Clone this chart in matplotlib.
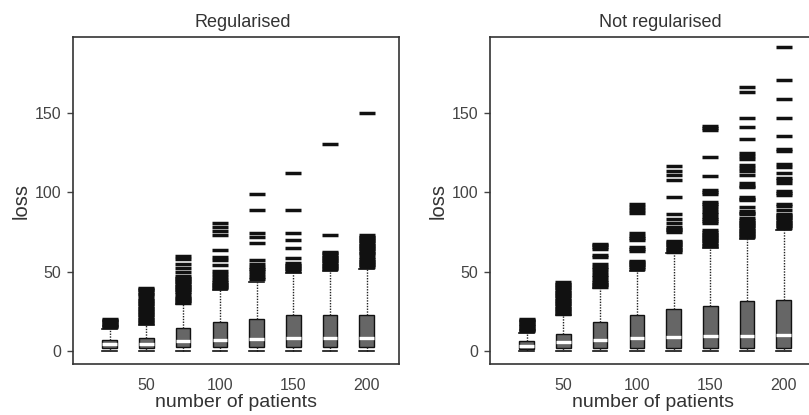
import matplotlib
matplotlib.use("Agg")
import matplotlib.pyplot as plt

# ---------------- data ----------------
patients = [25, 50, 75, 100, 125, 150, 175, 200]
xtick_vals = [50, 100, 150, 200]
ytick_vals = [0, 50, 100, 150]
titles = ["Regularised", "Not regularised"]
xlabel = "number of patients"
ylabel = "loss"

# Regularised
reg_whislo = [0, 0, 0, 0, 0, 0, 0, 0]
reg_q1 = [2.0, 2.2, 2.5, 2.5, 2.5, 2.5, 2.5, 2.5]
reg_med = [4.3, 4.8, 6.5, 7.3, 7.8, 8.2, 8.3, 8.3]
reg_q3 = [7.3, 8.6, 14.5, 18.4, 20.5, 22.6, 23.0, 23.0]
reg_whishi = [14.0, 16.5, 29.5, 38.5, 43.5, 49.5, 50.3, 52.0]
reg_fliers = [
    [15, 15.8, 16.6, 17.4, 18.2, 19, 19.8, 20.5],
    [17.5, 18.5, 19.5, 20.5, 21.5, 22.5, 23.5, 24.5, 25.5, 26.5, 27.5, 28.5,
     29.5, 30.5, 31.5, 32.5, 33.3, 35.3, 36.3, 37.3, 38.3, 39.3, 40],
    [30.5, 31.5, 32.5, 33.5, 34.3, 36.3, 37.3, 38.3, 39.3, 40.3, 41.3, 42.3,
     43.3, 44.3, 45.3, 46.3, 47.3, 50, 52.5, 55, 58, 60],
    [39.5, 40.5, 41.5, 42.5, 43.5, 44.5, 46.5, 48.5, 50.5, 54.5, 57.5, 59.5,
     63.5, 72.8, 75.3, 78, 80.7],
    [45.5, 46.5, 48.5, 50.5, 51.5, 53, 55, 57.5, 68, 72, 74.5, 89, 99],
    [50.5, 51.5, 52.5, 53.5, 54.5, 55.5, 58.6, 65, 69.7, 74.5, 88.5, 112],
    [51.5, 52.5, 53.5, 54.5, 55.5, 56.5, 57.5, 58.5, 59.5, 60.5, 61.5, 62.3,
     72.8, 130],
    [53, 54, 55, 56, 57, 58, 59, 61, 62, 63, 64, 65, 66, 67, 68, 69, 70, 71,
     72, 72.8, 150],
]

# Not regularised
nreg_whislo = [0, 0, 0, 0, 0, 0, 0, 0]
nreg_q1 = [1.5, 2.0, 2.3, 2.3, 2.3, 2.3, 2.3, 2.3]
nreg_med = [3.3, 5.9, 7.3, 8.4, 9.0, 9.4, 9.4, 10.5]
nreg_q3 = [6.5, 11.0, 18.4, 23.0, 26.8, 28.2, 31.4, 32.4]
nreg_whishi = [11.5, 22.5, 39.5, 50.5, 61.5, 65.0, 70.5, 76.0]
nreg_fliers = [
    [12.5, 13.3, 14.1, 14.9, 15.7, 16.5, 17.3, 18.1, 18.9, 19.7, 20.5],
    [23.5, 24.5, 25.5, 26.5, 27.5, 28.5, 29.5, 30.5, 31.5, 32.5, 33.5, 34.5,
     35.5, 36.5, 37.5, 38.5, 39.5, 40.5, 41.5, 42.5, 43.5],
    [40.5, 41.5, 42.5, 43.5, 44.5, 46.5, 48, 50, 51.5, 53, 55, 59, 60.5,
     64.5, 65.5, 66.5, 67.5],
    [52, 53, 54, 55, 56, 57, 63, 64, 65.5, 69.7, 71, 72.5, 74.5, 87, 88.5,
     90.6, 92.3],
    [62.5, 63.5, 64.5, 65.5, 66.5, 67.5, 68.5, 69.5, 75, 76, 77, 78, 80.5,
     83.3, 86.4, 96.9, 107.7, 111, 113.6, 116.3],
    [66, 67, 68, 69, 70, 71, 72, 73, 74, 75, 76, 80.5, 82, 83, 84.5, 86, 87.5,
     89.5, 91, 92.5, 94, 99, 100, 101.5, 110, 122, 139, 140, 141.5],
    [71.5, 72.5, 73.5, 74.5, 75.5, 76.5, 77.5, 78.5, 79.5, 80.5, 81.5, 82.5,
     83.5, 86, 87, 88, 90.5, 95, 96, 97, 103, 104, 106, 111, 113, 115, 117,
     121, 122.5, 124.5, 133.5, 141, 146.7, 163, 166],
    [77.5, 78.5, 79.5, 80.5, 81.5, 82.5, 83.5, 84.5, 85.5, 86.5, 89, 91, 92.7,
     98, 99.5, 101, 106, 107.5, 109, 112, 115.7, 117.5, 126, 127, 135.5,
     146.7, 158.4, 170.7, 191.4],
]


def build_stats(whislo, q1, med, q3, whishi, fliers):
    stats = []
    for i in range(len(patients)):
        stats.append(dict(whislo=whislo[i], q1=q1[i], med=med[i], q3=q3[i],
                          whishi=whishi[i], fliers=fliers[i]))
    return stats


panels = [
    build_stats(reg_whislo, reg_q1, reg_med, reg_q3, reg_whishi, reg_fliers),
    build_stats(nreg_whislo, nreg_q1, nreg_med, nreg_q3, nreg_whishi, nreg_fliers),
]

plt.rcParams['font.family'] = ['Liberation Sans', 'DejaVu Sans']

W, H = 809, 415
fig = plt.figure(figsize=(W / 100, H / 100), dpi=100)
ax_rects = [
    (73 / W, (H - 364) / H, 326 / W, 327 / H),
    (490 / W, (H - 364) / H, 326 / W, 327 / H),
]

for rect, stats, title in zip(ax_rects, panels, titles):
    ax = fig.add_axes(rect)
    ax.bxp(stats, positions=patients, widths=10, patch_artist=True,
           showfliers=True,
           boxprops=dict(facecolor='#666666', edgecolor='#111111', linewidth=1.0),
           medianprops=dict(color='white', linewidth=2.4),
           whiskerprops=dict(color='#222222', linestyle=(0, (1, 1)), linewidth=1.0),
           capprops=dict(color='#111111', linewidth=1.2),
           capwidths=10,
           flierprops=dict(marker='_', markersize=11, markeredgewidth=2.5,
                           markeredgecolor='#111111', linestyle='none'))
    ax.set_xlim(0, 222)
    ax.set_ylim(-8, 197.5)
    ax.set_xticks(xtick_vals)
    ax.set_xticklabels([str(v) for v in xtick_vals])
    ax.set_yticks(ytick_vals)
    ax.set_yticklabels([str(v) for v in ytick_vals])
    ax.tick_params(axis='x', length=0, pad=10, labelsize=11.5, labelcolor='#444444')
    ax.tick_params(axis='y', length=4.5, width=1.0, pad=4, labelsize=11.5,
                   labelcolor='#444444', color='#444444')
    for sp in ax.spines.values():
        sp.set_color('#333333')
        sp.set_linewidth(1.2)
    ax.set_title(title, fontsize=13, color='#333333', x=0.522, pad=7)
    ax.set_xlabel(xlabel, fontsize=14, color='#333333', labelpad=1)
    ax.set_ylabel(ylabel, fontsize=14.5, color='#333333', labelpad=3)

fig.savefig("out.png", dpi=100)
